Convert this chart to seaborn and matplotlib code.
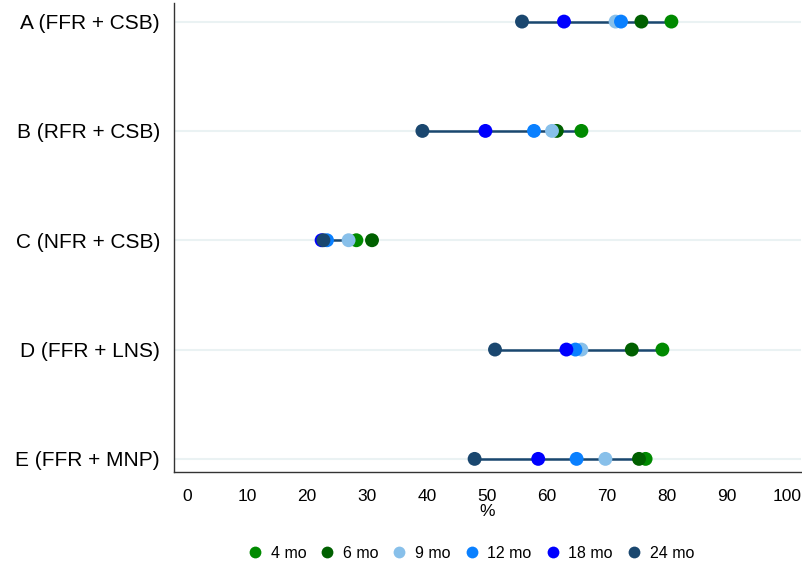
import matplotlib
matplotlib.use("Agg")
import matplotlib.pyplot as plt
import seaborn as sns
import pandas as pd

groups = ["A (FFR + CSB)", "B (RFR + CSB)", "C (NFR + CSB)", "D (FFR + LNS)", "E (FFR + MNP)"]
months = ["4 mo", "6 mo", "9 mo", "12 mo", "18 mo", "24 mo"]
v4 = [80.7, 65.7, 28.2, 79.2, 76.4]
v6 = [75.7, 61.6, 30.8, 74.1, 75.3]
v9 = [71.4, 60.8, 26.9, 65.7, 69.7]
v12 = [72.3, 57.8, 23.3, 64.7, 64.9]
v18 = [62.8, 49.7, 22.4, 63.2, 58.5]
v24 = [55.8, 39.2, 22.7, 51.3, 47.9]
colors = ["#008a00", "#006000", "#88c0ea", "#0a80ff", "#0000ff", "#1a476f"]
xticks = list(range(0, 101, 10))

series = [v4, v6, v9, v12, v18, v24]
rows = []
for m, vals in zip(months, series):
    for g, v in zip(groups, vals):
        rows.append({"group": g, "month": m, "pct": v})
df = pd.DataFrame(rows)

sns.set_style("white")
plt.rcParams["font.family"] = ["Liberation Sans", "DejaVu Sans"]
plt.rcParams["text.color"] = "black"
plt.rcParams["axes.labelcolor"] = "black"
plt.rcParams["xtick.color"] = "black"
plt.rcParams["ytick.color"] = "black"

fig = plt.figure(figsize=(8.03, 5.68), dpi=100)
ax = fig.add_axes([174 / 803, 1 - 472 / 568, 627 / 803, 469 / 568])

# grid lines
for i in range(len(groups)):
    ax.axhline(i, color="#eaf2f3", lw=1.5, zorder=0)

# range lines from 4 mo to 24 mo
ax.hlines(y=list(range(len(groups))), xmin=v24, xmax=v4, color="#1a476f", lw=1.8, zorder=1)

sns.scatterplot(data=df, x="pct", y="group", hue="month", hue_order=months,
                palette=colors, s=100, edgecolor="none", linewidth=0, ax=ax, zorder=3)

ax.set_xlim(-2.2, 102.3)
ax.set_ylim(4.12, -0.17)
ax.set_xticks(xticks)
ax.set_xticklabels([str(t) for t in xticks], fontsize=12.5)
ax.set_yticks(range(len(groups)))
ax.set_yticklabels(groups, fontsize=15)
ax.set_xlabel("%", fontsize=12.5, labelpad=0)
ax.set_ylabel("")

for side in ["top", "right"]:
    ax.spines[side].set_visible(False)
for side in ["left", "bottom"]:
    ax.spines[side].set_color("#333333")
    ax.spines[side].set_linewidth(1.0)
ax.tick_params(axis="x", direction="out", length=7, width=1, color="#333333", pad=5)
ax.tick_params(axis="y", direction="out", length=7, width=1, color="#333333", pad=3)

sns.move_legend(ax, "center", bbox_to_anchor=(470 / 803, 1 - 553 / 568),
                bbox_transform=fig.transFigure, ncol=6, frameon=False, title=None,
                fontsize=11.5, handletextpad=0.45, handlelength=1.1,
                columnspacing=0.75, markerscale=0.85)

fig.savefig("out.png", dpi=100)
